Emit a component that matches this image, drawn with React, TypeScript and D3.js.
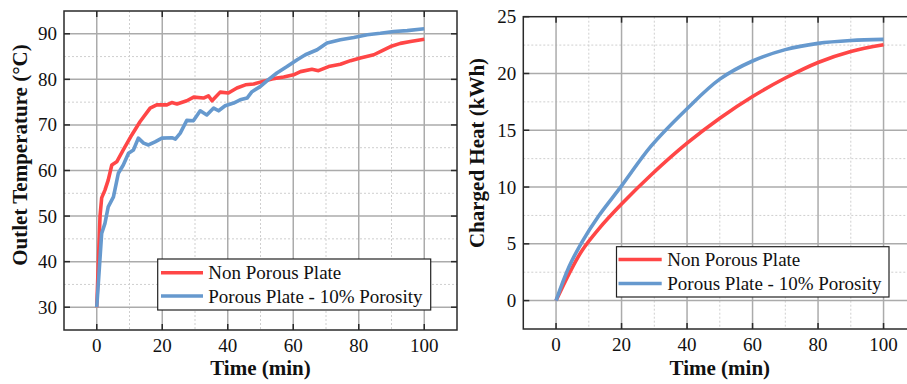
import React from "react";
import * as d3 from "d3";

// ---------- data ----------
const seriesNames = ["Non Porous Plate", "Porous Plate - 10% Porosity"];
const seriesColors = ["#FF4646", "#6699CE"];

// Left panel: outlet temperature (°C) vs time (min)
const nonPorousTempTime = [0, 1, 1.5, 2.5, 3.5, 4.6, 6.1, 8.1, 10.7, 13.2, 16.3, 18.3, 21.4, 22.9, 24.5, 27.5, 29.6, 32.6, 34.1, 35.2, 37.7, 40.2, 42.8, 45.4, 47.9, 50.5, 53.5, 57.1, 60.1, 62.2, 65.7, 67.7, 70.8, 74.4, 77.5, 80.5, 84.6, 87.2, 89.7, 92.7, 95.8, 100];
const nonPorousTemp = [30, 50, 54, 55.7, 57.9, 61.2, 61.9, 64.5, 67.8, 70.7, 73.7, 74.4, 74.4, 74.9, 74.6, 75.3, 76.1, 75.9, 76.4, 75.3, 77.2, 77.0, 78.1, 78.8, 79.0, 79.5, 80.1, 80.5, 81.0, 81.7, 82.2, 81.9, 82.8, 83.3, 84.1, 84.7, 85.4, 86.3, 87.2, 87.9, 88.3, 88.8];

const porousTempTime = [0, 1.5, 2.5, 3.5, 5.1, 6.6, 8.1, 9.7, 11.2, 12.7, 14.3, 15.8, 17.8, 19.9, 22.9, 24, 25.5, 27.5, 29.5, 31.6, 33.6, 35.7, 37.2, 39.2, 41.8, 43.8, 45.9, 47.4, 49.9, 52.5, 55, 58.1, 61.2, 63.7, 67.3, 70.3, 74.4, 78.5, 82.6, 86.6, 90.7, 94.8, 100];
const porousTemp = [30, 46.2, 48.4, 52.0, 54.2, 59.4, 61.2, 63.8, 64.5, 67.1, 66.0, 65.6, 66.3, 67.1, 67.2, 66.9, 68.2, 71.0, 70.9, 73.1, 72.2, 73.7, 73.1, 74.2, 74.8, 75.5, 75.9, 77.3, 78.4, 80.0, 81.4, 82.8, 84.3, 85.4, 86.5, 88.0, 88.7, 89.2, 89.8, 90.1, 90.5, 90.7, 91.1];

// Right panel: charged heat (kWh) vs time (min)
const heatTime = [0, 4, 8, 13, 20, 29, 40, 50, 60, 70, 80, 90, 100];
const nonPorousHeat = [0, 2.38, 4.44, 6.3, 8.5, 11.06, 13.86, 16.06, 17.97, 19.6, 20.97, 21.94, 22.53];
const porousHeat = [0, 3.0, 5.2, 7.45, 10.1, 13.6, 16.9, 19.5, 21.1, 22.1, 22.65, 22.9, 23.0];

const xTicks = [0, 20, 40, 60, 80, 100];
const xMinor = [-10, 10, 30, 50, 70, 90, 110];
const tempTicks = [30, 40, 50, 60, 70, 80, 90];
const tempMinor = [25, 35, 45, 55, 65, 75, 85, 95];
const heatTicks = [0, 5, 10, 15, 20, 25];
const heatMinor = [-2.5, 2.5, 7.5, 12.5, 17.5, 22.5];

const FONT = "'Liberation Serif', 'Times New Roman', serif";

type PanelProps = {
  left: number; right: number; top: number; bottom: number;
  xDomain: [number, number]; yDomain: [number, number];
  yTicks: number[]; yMinor: number[];
  series: { t: number[]; v: number[] }[];
  curve: d3.CurveFactory;
  yLabel: string; yLabelX: number; yLabelY: number;
  legend: { x0: number; y0: number; x1: number; y1: number; rows: number[]; lineX0: number; lineX1: number; textX: number };
};

function Panel(p: PanelProps) {
  const x = d3.scaleLinear().domain(p.xDomain).range([p.left, p.right]);
  const y = d3.scaleLinear().domain(p.yDomain).range([p.bottom, p.top]);
  const line = d3.line<[number, number]>().x(d => x(d[0])).y(d => y(d[1])).curve(p.curve);
  const tickLen = 6;
  const frameColor = "#2a2a2a";
  return (
    <g>
      {/* minor grid */}
      {xMinor.filter(v => v > p.xDomain[0] && v < p.xDomain[1]).map(v => (
        <line key={"xm" + v} x1={x(v)} x2={x(v)} y1={p.top} y2={p.bottom} stroke="#cfcfcf" strokeWidth={1} strokeDasharray="2,2" />
      ))}
      {p.yMinor.filter(v => v > p.yDomain[0] && v < p.yDomain[1]).map(v => (
        <line key={"ym" + v} x1={p.left} x2={p.right} y1={y(v)} y2={y(v)} stroke="#cfcfcf" strokeWidth={1} strokeDasharray="2,2" />
      ))}
      {/* major grid */}
      {xTicks.map(v => (
        <line key={"xg" + v} x1={x(v)} x2={x(v)} y1={p.top} y2={p.bottom} stroke="#ababab" strokeWidth={1.5} />
      ))}
      {p.yTicks.filter(v => v > p.yDomain[0] && v < p.yDomain[1]).map(v => (
        <line key={"yg" + v} x1={p.left} x2={p.right} y1={y(v)} y2={y(v)} stroke="#ababab" strokeWidth={1.5} />
      ))}
      {/* series */}
      {p.series.map((s, i) => (
        <path key={"s" + i} d={line(s.t.map((t, j) => [t, s.v[j]] as [number, number])) || ""} fill="none" stroke={seriesColors[i]} strokeWidth={3.6} strokeLinejoin="round" />
      ))}
      {/* frame */}
      <rect x={p.left} y={p.top} width={p.right - p.left} height={p.bottom - p.top} fill="none" stroke={frameColor} strokeWidth={1.5} />
      {/* ticks */}
      {xTicks.map(v => (
        <g key={"xt" + v}>
          <line x1={x(v)} x2={x(v)} y1={p.bottom} y2={p.bottom - tickLen} stroke={frameColor} strokeWidth={1.5} />
          <line x1={x(v)} x2={x(v)} y1={p.top} y2={p.top + tickLen} stroke={frameColor} strokeWidth={1.5} />
          <text x={x(v)} y={p.bottom + 22} textAnchor="middle" fontFamily={FONT} fontSize={19} fill="#111">{v}</text>
        </g>
      ))}
      {p.yTicks.map(v => (
        <g key={"yt" + v}>
          <line x1={p.left} x2={p.left + tickLen} y1={y(v)} y2={y(v)} stroke={frameColor} strokeWidth={1.5} />
          <line x1={p.right} x2={p.right - tickLen} y1={y(v)} y2={y(v)} stroke={frameColor} strokeWidth={1.5} />
          <text x={p.left - 7} y={y(v) + 6.5} textAnchor="end" fontFamily={FONT} fontSize={19} fill="#111">{v}</text>
        </g>
      ))}
      {/* axis titles */}
      <text x={(x(0) + x(100)) / 2} y={375} textAnchor="middle" fontFamily={FONT} fontSize={21} fontWeight="bold" fill="#111">Time (min)</text>
      <text transform={`translate(${p.yLabelX},${p.yLabelY}) rotate(-90)`} textAnchor="middle" fontFamily={FONT} fontSize={21} fontWeight="bold" fill="#111">{p.yLabel}</text>
      {/* legend */}
      <rect x={p.legend.x0} y={p.legend.y0} width={p.legend.x1 - p.legend.x0} height={p.legend.y1 - p.legend.y0} fill="#fff" stroke="#222" strokeWidth={1.2} />
      {seriesNames.map((n, i) => (
        <g key={"lg" + i}>
          <line x1={p.legend.lineX0} x2={p.legend.lineX1} y1={p.legend.rows[i]} y2={p.legend.rows[i]} stroke={seriesColors[i]} strokeWidth={3.6} />
          <text x={p.legend.textX} y={p.legend.rows[i] + 6.5} fontFamily={FONT} fontSize={19} fill="#111">{n}</text>
        </g>
      ))}
    </g>
  );
}

export default function App() {
  return (
    <svg width={907} height={384} style={{ position: "absolute", left: 0, top: 0, background: "#fff" }}>
      <rect x={0} y={0} width={907} height={384} fill="#fff" />
      <Panel
        left={64} right={457} top={11} bottom={330}
        xDomain={[-10, 110]} yDomain={[25, 95]}
        yTicks={tempTicks} yMinor={tempMinor}
        series={[{ t: nonPorousTempTime, v: nonPorousTemp }, { t: porousTempTime, v: porousTemp }]}
        curve={d3.curveLinear}
        yLabel="Outlet Temperature (°C)" yLabelX={27} yLabelY={155}
        legend={{ x0: 157.7, y0: 259, x1: 430.7, y1: 310, rows: [272.7, 296], lineX0: 161, lineX1: 203, textX: 208.3 }}
      />
      <Panel
        left={523.3} right={916.3} top={16.7} bottom={329}
        xDomain={[-10, 110]} yDomain={[-2.5, 25]}
        yTicks={heatTicks} yMinor={heatMinor}
        series={[{ t: heatTime, v: nonPorousHeat }, { t: heatTime, v: porousHeat }]}
        curve={d3.curveCatmullRom.alpha(0.5)}
        yLabel="Charged Heat (kWh)" yLabelX={484} yLabelY={153}
        legend={{ x0: 616.5, y0: 246.7, x1: 889, y1: 297, rows: [259.5, 283.5], lineX0: 618.5, lineX1: 661.7, textX: 667.3 }}
      />
    </svg>
  );
}
